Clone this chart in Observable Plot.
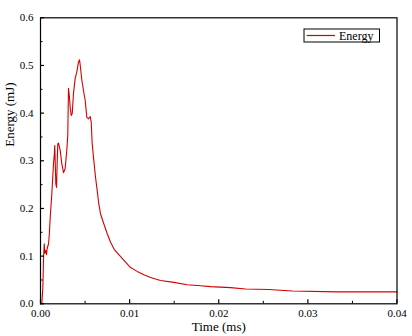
<!DOCTYPE html>
<html><head><meta charset="utf-8">
<script src="https://cdn.jsdelivr.net/npm/d3@7"></script>
<script src="https://cdn.jsdelivr.net/npm/@observablehq/plot@0.6"></script>
<style>body{margin:0;background:#fff} svg text{font-family:"Liberation Serif","Times New Roman","DejaVu Serif",serif !important}</style>
</head><body><div id="chart"></div>
<script>
const time = [0, 0.00015, 0.00026, 0.00034, 0.00042, 0.00048, 0.00059, 0.00067, 0.00075, 0.0009, 0.00098, 0.00109, 0.00127, 0.00146, 0.00154, 0.0016, 0.00172, 0.0018, 0.00187, 0.00194, 0.00202, 0.00221, 0.00239, 0.00258, 0.00277, 0.00295, 0.00306, 0.00314, 0.00325, 0.00333, 0.00345, 0.00356, 0.0037, 0.00389, 0.00407, 0.00426, 0.00438, 0.00446, 0.00464, 0.00483, 0.00502, 0.0052, 0.00539, 0.00558, 0.00569, 0.0058, 0.00598, 0.00617, 0.00636, 0.00654, 0.00673, 0.0071, 0.00749, 0.00786, 0.00831, 0.0101, 0.01085, 0.0116, 0.01235, 0.01347, 0.01496, 0.01646, 0.01796, 0.01908, 0.02132, 0.02301, 0.02559, 0.02825, 0.0333, 0.04];
const energy = [0, 0.002, 0.032, 0.095, 0.126, 0.106, 0.112, 0.103, 0.116, 0.126, 0.143, 0.181, 0.231, 0.294, 0.311, 0.332, 0.252, 0.244, 0.294, 0.336, 0.337, 0.322, 0.294, 0.275, 0.284, 0.322, 0.353, 0.452, 0.433, 0.412, 0.395, 0.399, 0.441, 0.473, 0.486, 0.507, 0.512, 0.5, 0.469, 0.447, 0.426, 0.391, 0.388, 0.393, 0.381, 0.336, 0.301, 0.266, 0.238, 0.21, 0.189, 0.168, 0.147, 0.129, 0.113, 0.076, 0.068, 0.061, 0.055, 0.049, 0.045, 0.04, 0.038, 0.036, 0.034, 0.031, 0.03, 0.027, 0.025, 0.025];
const xTicks = [0, 0.01, 0.02, 0.03, 0.04];
const xMinor = [0.005, 0.015, 0.025, 0.035];
const yTicks = [0, 0.1, 0.2, 0.3, 0.4, 0.5, 0.6];
const yMinor = [0.05, 0.15, 0.25, 0.35, 0.45, 0.55];
const seriesName = "Energy";
const xLabel = "Time (ms)";
const yLabel = "Energy (mJ)";

const data = time.map((t, i) => ({t, e: energy[i]}));
const W = 412, H = 336, mL = 40, mR = 15.5, mT = 17.3, mB = 32.7;
const fw = W - mL - mR, fh = H - mT - mB;
const red = "#d40000";
const font = "'Liberation Serif', 'Times New Roman', 'DejaVu Serif', serif";

const chart = Plot.plot({
  width: W, height: H,
  marginLeft: mL, marginRight: mR, marginTop: mT, marginBottom: mB,
  style: {fontFamily: font, fontSize: "11px", color: "#000", background: "#fff"},
  x: {domain: [0, 0.04]},
  y: {domain: [0, 0.6]},
  marks: [
    Plot.line(data, {x: "t", y: "e", stroke: red, strokeWidth: 1.1}),
    Plot.frame({stroke: "#000", strokeWidth: 1.2}),
    Plot.ruleX(xTicks, {x: d => d, insetTop: fh - 4, strokeWidth: 1.2}),
    Plot.ruleX(xMinor, {x: d => d, insetTop: fh - 2.5}),
    Plot.ruleY(yTicks, {y: d => d, insetRight: fw - 4, strokeWidth: 1.2}),
    Plot.ruleY(yMinor, {y: d => d, insetRight: fw - 2.5}),
    Plot.axisX(xTicks, {tickSize: 0, tickPadding: 5, tickFormat: d3.format(".2f"), label: null}),
    Plot.axisY(yTicks, {tickSize: 0, tickPadding: 7, tickFormat: d3.format(".1f"), label: null}),
    Plot.text([xLabel], {frameAnchor: "bottom", dy: 27, fontSize: 13}),
    Plot.text([yLabel], {frameAnchor: "left", dx: -31, dy: -14, rotate: -90, fontSize: 13})
  ]
});
document.getElementById("chart").appendChild(chart);

// legend inside the frame (top-right)
const svg = d3.select(chart);
const lg = svg.append("g");
const bx = W - mR - 92.5, by = mT + 11.7;
lg.append("rect").attr("x", bx).attr("y", by).attr("width", 75.5).attr("height", 13)
  .attr("fill", "#fff").attr("stroke", "#000").attr("stroke-width", 1);
lg.append("line").attr("x1", bx + 2.7).attr("x2", bx + 31).attr("y1", by + 6.5).attr("y2", by + 6.5)
  .attr("stroke", red).attr("stroke-width", 1.2);
lg.append("text").attr("x", bx + 35).attr("y", by + 10.5).attr("font-family", font)
  .attr("text-anchor", "start")
  .attr("font-size", 12).attr("fill", "#000").text(seriesName);
</script>
</body></html>
